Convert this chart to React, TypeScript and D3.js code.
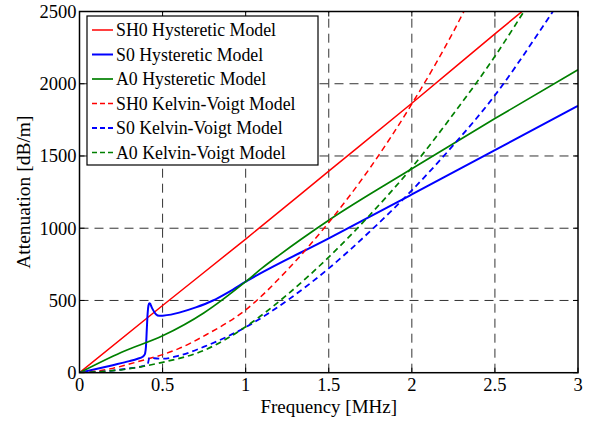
import * as d3 from "d3";

const xTicks = [0, 0.5, 1, 1.5, 2, 2.5, 3];
const yTicks = [0, 500, 1000, 1500, 2000, 2500];

// SH0 hysteretic
const sh0HysF = [0, 0.5, 1, 1.5, 2, 2.5, 2.7];
const sh0HysV = [0, 465, 925, 1395, 1865, 2345, 2535];

// S0 hysteretic
const s0HysF = [0, 0.1, 0.2, 0.3, 0.35, 0.38, 0.39, 0.395, 0.4, 0.405, 0.41, 0.415, 0.42, 0.425, 0.43, 0.44, 0.45, 0.46, 0.48, 0.5, 0.55, 0.6, 0.7, 0.8, 0.9, 1, 1.5, 2, 2.5, 3];
const s0HysV = [0, 25, 52, 80, 97, 110, 122, 135, 180, 300, 410, 465, 480, 478, 465, 440, 420, 405, 394, 395, 402, 416, 452, 498, 560, 630, 930, 1234, 1540, 1847];

// A0 hysteretic
const a0HysF = [0, 0.25, 0.5, 0.75, 1, 1.1, 1.2, 1.5, 2, 2.5, 3];
const a0HysV = [0, 140, 255, 415, 630, 725, 812, 1055, 1411, 1759, 2097];

// SH0 Kelvin-Voigt
const sh0KvF = [0, 0.1, 0.2, 0.3, 0.4, 0.5, 0.6, 0.75, 1, 1.25, 1.5, 1.75, 2, 2.25, 2.4];
const sh0KvV = [0, 10, 30, 60, 92, 125, 168, 255, 435, 710, 1040, 1420, 1860, 2360, 2700];

// S0 Kelvin-Voigt
const s0KvF = [0, 0.1, 0.2, 0.3, 0.38, 0.41, 0.415, 0.42, 0.43, 0.45, 0.5, 0.6, 0.75, 1, 1.25, 1.5, 1.75, 2, 2.25, 2.5, 2.75, 2.9];
const s0KvV = [0, 4, 15, 30, 45, 55, 80, 103, 106, 100, 97, 118, 180, 315, 500, 722, 980, 1262, 1575, 1920, 2330, 2590];

// A0 Kelvin-Voigt
const a0KvF = [0, 0.25, 0.5, 0.75, 1, 1.25, 1.5, 1.75, 2, 2.25, 2.5, 2.75];
const a0KvV = [0, 20, 72, 155, 318, 540, 800, 1095, 1420, 1790, 2190, 2640];

const series = [
  { name: "SH0 Hysteretic Model", f: sh0HysF, v: sh0HysV, color: "#ff0000", dash: null, w: 1.5 },
  { name: "S0 Hysteretic Model", f: s0HysF, v: s0HysV, color: "#0000ff", dash: null, w: 2 },
  { name: "A0 Hysteretic Model", f: a0HysF, v: a0HysV, color: "#008000", dash: null, w: 1.7 },
  { name: "SH0 Kelvin-Voigt Model", f: sh0KvF, v: sh0KvV, color: "#ff0000", dash: "6,4", w: 1.5 },
  { name: "S0 Kelvin-Voigt Model", f: s0KvF, v: s0KvV, color: "#0000ff", dash: "6,4", w: 1.8 },
  { name: "A0 Kelvin-Voigt Model", f: a0KvF, v: a0KvV, color: "#008000", dash: "6,4", w: 1.7 },
];

const W = 591;
const H = 423;
const left = 79.5;
const right = 578;
const top = 11.5;
const bottom = 372.7;
const font = "'Liberation Serif', 'Times New Roman', serif";

export default function App() {
  const x = d3.scaleLinear().domain([0, 3]).range([left, right]);
  const y = d3.scaleLinear().domain([0, 2500]).range([bottom, top]);

  const line = d3
    .line<[number, number]>()
    .x((d) => x(d[0]))
    .y((d) => y(d[1]))
    .curve(d3.curveMonotoneX);

  const rowH = 24.5;
  const legendTop = 16;

  return (
    <svg
      width={W}
      height={H}
      viewBox={`0 0 ${W} ${H}`}
      style={{ position: "absolute", left: 0, top: 0, background: "#fff" }}
    >
      <defs>
        <clipPath id="plot">
          <rect x={left} y={top} width={right - left} height={bottom - top} />
        </clipPath>
      </defs>
      <rect x={0} y={0} width={W} height={H} fill="#fff" />

      {/* grid */}
      <g stroke="#333" strokeWidth={1} strokeDasharray="9,6">
        {xTicks.slice(1, -1).map((t) => (
          <line key={"gx" + t} x1={x(t)} x2={x(t)} y1={bottom} y2={top} />
        ))}
        {yTicks.slice(1, -1).map((t) => (
          <line key={"gy" + t} x1={left} x2={right} y1={y(t)} y2={y(t)} />
        ))}
      </g>

      {/* curves */}
      <g clipPath="url(#plot)" fill="none">
        {series.map((s) => (
          <path
            key={s.name}
            d={line(s.f.map((f, i) => [f, s.v[i]] as [number, number])) || ""}
            stroke={s.color}
            strokeWidth={s.w}
            strokeDasharray={s.dash || undefined}
          />
        ))}
      </g>

      {/* frame and ticks */}
      <rect x={left} y={top} width={right - left} height={bottom - top} fill="none" stroke="#000" strokeWidth={1.5} />
      <g stroke="#000" strokeWidth={1}>
        {xTicks.map((t) => (
          <g key={"tx" + t}>
            <line x1={x(t)} x2={x(t)} y1={bottom} y2={bottom - 5} />
            <line x1={x(t)} x2={x(t)} y1={top} y2={top + 5} />
          </g>
        ))}
        {yTicks.map((t) => (
          <g key={"ty" + t}>
            <line x1={left} x2={left + 5} y1={y(t)} y2={y(t)} />
            <line x1={right} x2={right - 5} y1={y(t)} y2={y(t)} />
          </g>
        ))}
      </g>

      {/* tick labels */}
      <g fontFamily={font} fontSize={18.5} fill="#000">
        {xTicks.map((t) => (
          <text key={"lx" + t} x={x(t)} y={bottom + 18.5} textAnchor="middle">
            {String(t)}
          </text>
        ))}
        {yTicks.map((t) => (
          <text key={"ly" + t} x={left - 3} y={y(t) + 6.5} textAnchor="end">
            {String(t)}
          </text>
        ))}
      </g>

      {/* axis labels */}
      <text x={(left + right) / 2} y={413} textAnchor="middle" fontFamily={font} fontSize={19}>
        Frequency [MHz]
      </text>
      <text
        transform={`translate(30,${(top + bottom) / 2}) rotate(-90)`}
        textAnchor="middle"
        fontFamily={font}
        fontSize={19.5}
      >
        Attenuation [dB/m]
      </text>

      {/* legend */}
      <rect x={87} y={legendTop} width={231} height={149} fill="#fff" stroke="#000" strokeWidth={1.2} />
      {series.map((s, i) => {
        const cy = legendTop + 14 + i * rowH;
        return (
          <g key={"lg" + s.name}>
            <line
              x1={92}
              x2={113}
              y1={cy}
              y2={cy}
              stroke={s.color}
              strokeWidth={s.w}
              strokeDasharray={s.dash ? "5,3" : undefined}
            />
            <text x={116} y={cy + 6} fontFamily={font} fontSize={17.8}>
              {s.name}
            </text>
          </g>
        );
      })}
    </svg>
  );
}
